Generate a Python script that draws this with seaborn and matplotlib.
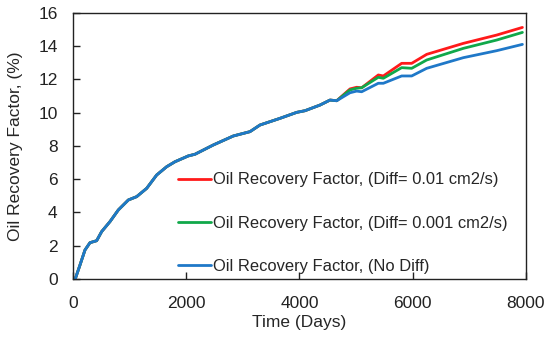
import numpy as np
import pandas as pd
import matplotlib
matplotlib.use("Agg")
import matplotlib.pyplot as plt
import seaborn as sns

# -------------------------------
# Data
# -------------------------------

# shared part of the curves (all three overlap up to ~4650 days)
days_common = [40, 124, 212, 300, 418, 507, 654, 801, 978, 1125, 1302, 1478,
               1655, 1802, 2037, 2155, 2480, 2833, 3127, 3304, 3657, 3952,
               4099, 4364, 4541, 4659]
rf_common = [0.0, 0.84, 1.74, 2.18, 2.30, 2.85, 3.45, 4.15, 4.75, 4.95, 5.45,
             6.25, 6.75, 7.05, 7.40, 7.50, 8.06, 8.60, 8.86, 9.26, 9.66,
             10.02, 10.12, 10.46, 10.76, 10.72]

days_tail = [4894, 5012, 5100, 5394, 5483, 5807, 5984, 6249, 6896, 7485, 7940]
rf_nodiff_tail = [11.20, 11.30, 11.26, 11.77, 11.77, 12.21, 12.21, 12.67,
                  13.31, 13.73, 14.11]
rf_diff001_tail = [11.37, 11.47, 11.50, 12.13, 12.07, 12.71, 12.67, 13.17,
                   13.87, 14.37, 14.83]
rf_diff01_tail = [11.43, 11.53, 11.50, 12.27, 12.21, 12.97, 12.97, 13.51,
                  14.17, 14.67, 15.13]

labels = ["Oil Recovery Factor, (Diff= 0.01 cm2/s)",
          "Oil Recovery Factor, (Diff= 0.001 cm2/s)",
          "Oil Recovery Factor, (No Diff)"]
colors = ["#ff1a1a", "#10a84a", "#1f78c8"]
tails = [rf_diff01_tail, rf_diff001_tail, rf_nodiff_tail]

frames = []
for lab, tail in zip(labels, tails):
    frames.append(pd.DataFrame({
        "Time (Days)": days_common + days_tail,
        "RF": rf_common + tail,
        "case": lab,
    }))
df = pd.concat(frames, ignore_index=True)

# -------------------------------
# Plot
# -------------------------------

sns.set_style("ticks")
plt.rcParams["font.family"] = ["Liberation Sans", "DejaVu Sans"]
fs = 12.5

fig = plt.figure(figsize=(5.5, 3.41), dpi=100)
ax = fig.add_axes([0.1327, 0.182, 0.8233, 0.780])

sns.lineplot(data=df, x="Time (Days)", y="RF", hue="case",
             hue_order=labels, palette=colors, sort=False,
             estimator=None, linewidth=2.0, ax=ax)

ax.set_xlim(0, 8000)
ax.set_ylim(0, 16)
ax.set_xticks([0, 2000, 4000, 6000, 8000])
ax.set_yticks(range(0, 17, 2))
ax.tick_params(direction="in", length=5, width=1, labelsize=fs,
               colors="#222222")
ax.tick_params(axis="y", pad=11)
ax.tick_params(axis="x", pad=12)
for s in ax.spines.values():
    s.set_visible(True)
    s.set_linewidth(1.0)
    s.set_color("#222222")

ax.set_xlabel("Time (Days)", fontsize=fs, labelpad=3)
ax.set_ylabel("Oil Recovery Factor, (%)", fontsize=fs, labelpad=11)

leg = ax.legend(loc="lower left", bbox_to_anchor=(0.217, -0.005),
                frameon=False, fontsize=11.9, handlelength=2.0,
                handletextpad=0.15, labelspacing=1.7, borderaxespad=0)
for h in leg.get_lines():
    h.set_linewidth(2.0)

fig.savefig("out.png", dpi=100)
